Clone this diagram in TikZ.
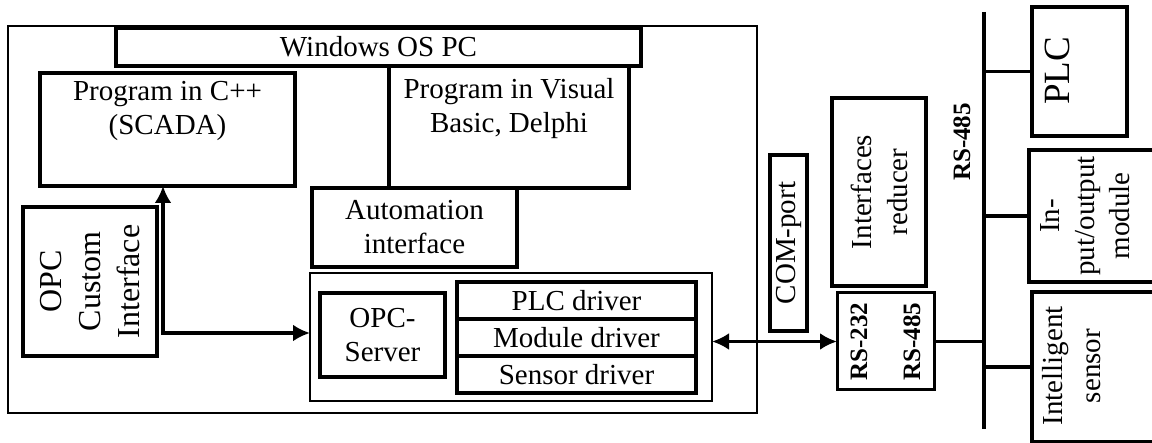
\documentclass[tikz,border=0pt]{standalone}
\usepackage{fontspec}
\setmainfont{Liberation Serif}
\usetikzlibrary{arrows.meta,calc}
\tikzset{
	box/.style={draw, line width=3.5pt, inner sep=0pt, outer sep=0pt},
	thinbox/.style={draw, line width=2.5pt, inner sep=0pt, outer sep=0pt},
	txt/.style={inner sep=0pt, align=center, font=\fontsize{29}{34}\selectfont},
	vtxt/.style={txt, rotate=90},
	rslabel/.style={inner sep=0pt, align=center, rotate=90, font=\bfseries\fontsize{25}{30}\selectfont},
	link/.style={line width=3.5pt},
	twoway/.style={line width=3.5pt, {Latex[length=17pt,width=17pt]}-{Latex[length=17pt,width=17pt]}}
}

\begin{document}
\begin{tikzpicture}[x=1pt, y=-1pt]
		%%%%% START %%%%%
		\useasboundingbox (0,0) rectangle (1152,443);
		
		% PC
		\node[thinbox, minimum width=749, minimum height=387] (pc) at (382.5,219.5) {};
		\node[box, minimum width=525, minimum height=38] (win) at (378.5,47) {};
		\node[txt] (wintxt) at (win) {Windows OS PC};
		
		\node[box, minimum width=255, minimum height=113] (cpp) at (167.5,129.5) {};
		\node[txt, anchor=north] (cpptxt) at ($(cpp.north)+(0,8)$) {Program in C++\\(SCADA)};
		
		\node[box, minimum width=240, minimum height=122] (vb) at (509,127) {};
		\node[txt, anchor=north] (vbtxt) at ($(vb.north)+(0,12)$) {Program in Visual\\Basic, Delphi};
		
		\node[box, minimum width=205, minimum height=79] (auto) at (414.5,227.5) {};
		\node[txt] (autotxt) at (auto) {Automation\\interface};
		
		\node[box, minimum width=134, minimum height=149] (opccust) at (90,281.5) {};
		\node[vtxt, font=\fontsize{32}{39}\selectfont] (opccusttxt) at (opccust) {OPC\\Custom\\Interface};
		
		% server and drivers
		\node[thinbox, minimum width=402, minimum height=128] (srv) at (511,337) {};
		\node[box, minimum width=125, minimum height=84] (opc) at (382.5,335) {};
		\node[txt] (opctxt) at (opc) {OPC-\\Server};
		
		\node[box, minimum width=239, minimum height=37] (plcdrv) at (576.5,300.5) {};
		\node[box, minimum width=239, minimum height=37] (moddrv) at (576.5,337.5) {};
		\node[box, minimum width=239, minimum height=37] (snsdrv) at (576.5,374.5) {};
		\node[txt] (plcdrvtxt) at (plcdrv) {PLC driver};
		\node[txt] (moddrvtxt) at (moddrv) {Module driver};
		\node[txt] (snsdrvtxt) at (snsdrv) {Sensor driver};
		
		% port and reducer
		\node[box, minimum width=37, minimum height=176] (com) at (788.5,243) {};
		\node[vtxt] (comtxt) at (com) {COM-port};
		
		\node[box, minimum width=94, minimum height=188] (red) at (879,192) {};
		\node[vtxt, font=\fontsize{29}{36}\selectfont] (redtxt) at (red) {Interfaces\\reducer};
		
		\node[box, line width=3pt, minimum width=97, minimum height=97] (rs) at (885.5,341.5) {};
		\node[rslabel, font=\bfseries\fontsize{25}{53}\selectfont] (rstxt) at (rs) {RS-232\\RS-485};
		
		% bus
		\coordinate (bustop) at (984,12);
		\coordinate (busbot) at (984,429);
		\draw[line width=4pt] (bustop) -- (busbot);
		\node[rslabel] (buslbl) at (962,142) {RS-485};
		
		\node[box, minimum width=95, minimum height=129] (plc) at (1079.5,71.5) {};
		\node[vtxt, font=\fontsize{37}{40}\selectfont] (plctxt) at (1057,71) {PLC};
		
		\node[box, minimum width=136, minimum height=132] (io) at (1097,216) {};
		\node[vtxt, font=\fontsize{29}{35}\selectfont] (iotxt) at (1085,216) {In-\\put/output\\module};
		
		\node[box, minimum width=133, minimum height=150] (sns) at (1098.5,367) {};
		\node[vtxt, font=\fontsize{29}{38}\selectfont] (snstxt) at (1072,366) {Intelligent\\sensor};
		
		\draw[link] (plc.west) -- (plc.west -| bustop);
		\draw[link] (io.west) -- (io.west -| bustop);
		\draw[link] (sns.west) -- (sns.west -| bustop);
		\draw[link] (rs.east) -- (rs.east -| bustop);
		
		% arrows
		\coordinate (bend) at (163,333);
		\draw[twoway] (bend |- cpp.south) -- (bend) -- (bend -| srv.west);
		\draw[twoway] (srv.east |- rs.west) -- (rs.west);
		
		%%%%% END %%%%%
\end{tikzpicture}
\end{document}
